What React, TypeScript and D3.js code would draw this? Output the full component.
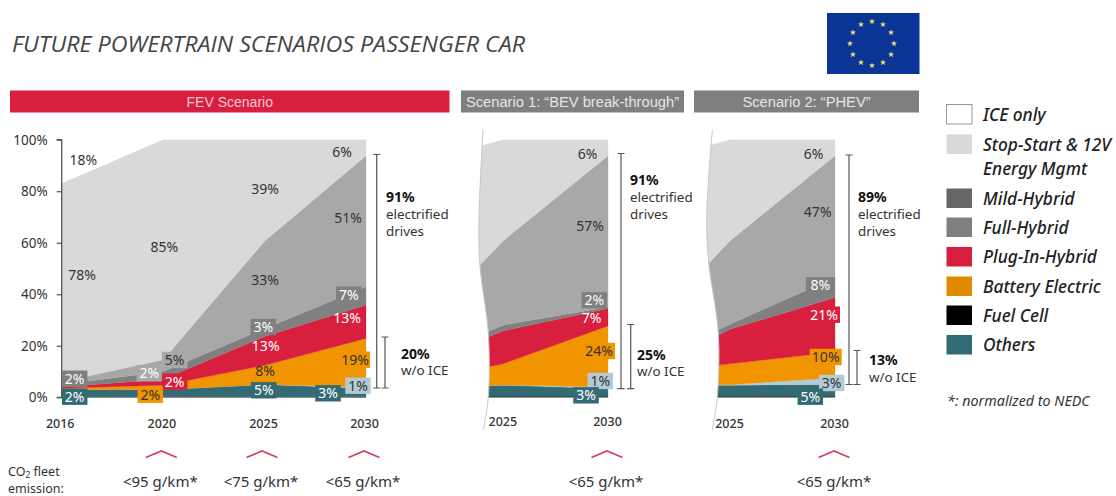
import React, { useEffect, useRef } from "react";
import * as d3 from "d3";

// ---------- data ----------
const fevYears = [2016, 2020, 2025, 2030];
const fevFuelCell = [0.2, 0.2, 0.2, 0.2];
const fevOthers = [2.8, 2.8, 4.8, 3.3];
const fevPale = [0, 0, 0, 0.5];
const fevBattery = [0.5, 1.7, 7.4, 18.8];
const fevPlugIn = [0.5, 2.3, 11.3, 13];
const fevDark = [1, 3, 3, 7.1];
const fevMid = [1, 4.6, 34.1, 50.9];
const fevLight = [77, 85.4, 39.2, 6.2];

// The scenario panels are cut off just before 2025
const s1Years = [2023.8, 2025, 2030];
const s1FuelCell = [0.4, 0.4, 0.4];
const s1Others = [4, 4.3, 3];
const s1Pale = [0.1, 0.1, 0.6];
const s1Battery = [6.5, 8.2, 23.7];
const s1PlugIn = [10.8, 12.8, 6.8];
const s1Dark = [2.2, 2.2, 0.6];
const s1Mid = [26.6, 32.8, 58.7];
const s1Light = [46.7, 39.2, 6.2];

const s2Years = [2023.9, 2025, 2030];
const s2FuelCell = [0.4, 0.4, 0.4];
const s2Others = [4.3, 4.3, 4.6];
const s2Pale = [0.1, 0.2, 2.6];
const s2Battery = [7.2, 8.1, 10];
const s2PlugIn = [9.9, 13.4, 21.1];
const s2Dark = [2.1, 2, 7.8];
const s2Mid = [27.3, 32.4, 47.3];
const s2Light = [46.2, 39.2, 6.2];

const yTicks = [0, 20, 40, 60, 80, 100];
const fevTickYears = [2016, 2020, 2025, 2030];
const scenarioTickYears = [2025, 2030];

const fevLabels = ["18%", "78%", "85%", "39%", "33%", "51%", "6%", "7%", "13%", "13%", "3%", "8%", "5%", "19%", "1%", "3%", "2%", "2%", "2%", "5%", "2%", "2%"];
const s1Labels = ["6%", "57%", "2%", "7%", "24%", "1%", "3%"];
const s2Labels = ["6%", "47%", "8%", "21%", "10%", "3%", "5%"];

const headers = ["FEV Scenario", "Scenario 1: \u201CBEV break-through\u201D", "Scenario 2: \u201CPHEV\u201D"];
const legendNames = ["ICE only", "Stop-Start & 12V", "Mild-Hybrid", "Full-Hybrid", "Plug-In-Hybrid", "Battery Electric", "Fuel Cell", "Others"];
const co2Targets = ["<95 g/km*", "<75 g/km*", "<65 g/km*", "<65 g/km*", "<65 g/km*"];

// ---------- styles and layout ----------
const W = 1116, H = 496;
const Y0 = 397.3, Y100 = 139.7;
const SANS = "'Noto Sans', sans-serif";
const C = {
  fuel: "#111111", others: "#336b75", pale: "#b3cbd6", battery: "#f09400", plug: "#d91f3e",
  dark: "#808080", mid: "#a8a8a8", light: "#d9d9d9", ink: "#333333",
};
const layerKeys = ["fuel", "others", "pale", "battery", "plug", "dark", "mid", "light"];
const layerColors = [C.fuel, C.others, C.pale, C.battery, C.plug, C.dark, C.mid, C.light];

const yScale = d3.scaleLinear().domain([0, 100]).range([Y0, Y100]);

type L = [number, number, number?, string?, string?]; // cx, cy, box width, box fill, text color
const B = 25.5;
const fevLayout: L[] = [
  [83.3, 159.7], [82, 275], [164.3, 247], [265, 188.5], [265, 280], [348, 218], [342, 152],
  [348.8, 294.7, B, C.dark, "#fff"], [347, 318, 0, "", "#fff"], [265.7, 345.7, 0, "", "#fff"],
  [263.3, 327, B, C.dark, "#fff"], [265, 371], [263.8, 390.3, B, C.others, "#fff"],
  [355, 359.7, 30, C.battery], [358, 385.7, B, C.pale], [328, 393.3, B, C.others, "#fff"],
  [74.7, 378.7, B, C.dark, "#fff"], [74.7, 396.7, B, C.others, "#fff"],
  [149.3, 373.3, B, C.mid, "#fff"], [174.7, 360, B, C.mid], [174.7, 381.7, B, C.plug, "#fff"], [150.3, 394.7, B, C.battery],
];
const s1Layout: L[] = [
  [587.7, 154], [590, 226], [594.3, 300.3, B, C.dark, "#fff"], [591.7, 318.3, 0, "", "#fff"],
  [599, 351, 32, C.battery], [600.3, 381, B, C.pale], [586, 395.3, B, C.others, "#fff"],
];
const s2Layout: L[] = [
  [813.7, 154], [817.7, 212.3], [820.3, 285.3, 29, C.dark, "#fff"], [824, 314.7, 32, C.plug, "#fff"],
  [825.7, 357, 32, C.battery], [831.7, 383, B, C.pale], [810.3, 396.7, B, C.others, "#fff"],
];

function stackLayers(years: number[], cols: number[][]) {
  const rows = years.map((year, i) => {
    const r: Record<string, number> = { year };
    layerKeys.forEach((k, j) => (r[k] = cols[j][i]));
    return r;
  });
  return d3.stack<Record<string, number>>().keys(layerKeys)(rows);
}

function Areas({ years, cols, x, clip }: { years: number[]; cols: number[][]; x: d3.ScaleLinear<number, number>; clip?: string }) {
  const area = d3.area<any>()
    .x((d) => x(d.data.year))
    .y0((d) => yScale(Math.min(100, d[0])))
    .y1((d) => yScale(Math.min(100, d[1])));
  return (
    <g clipPath={clip ? `url(#${clip})` : undefined}>
      {stackLayers(years, cols).map((s, i) => (
        <path key={i} d={area(s as any) as string} fill={layerColors[i]} stroke={layerColors[i]} strokeWidth={0.3} />
      ))}
    </g>
  );
}

function YAxis() {
  const ref = useRef<SVGGElement>(null);
  useEffect(() => {
    const g = d3.select(ref.current as SVGGElement);
    g.call(d3.axisLeft(yScale).tickValues(yTicks).tickSize(5).tickPadding(9).tickFormat((d) => `${d}%`) as any);
    g.selectAll("path").attr("stroke", "#555").attr("stroke-width", 1.3).attr("d", `M-5,${Y100}H0V${Y0}H-5`);
    g.selectAll("line").attr("stroke", "#555").attr("stroke-width", 1.2);
    g.selectAll("text").attr("fill", C.ink).style("font", `13.5px ${SANS}`);
  }, []);
  return <g ref={ref} transform="translate(61.7,0)" />;
}

function Labels({ texts, layout }: { texts: string[]; layout: L[] }) {
  return (
    <g>
      {texts.map((t, i) => {
        const [cx, cy, w, fill, color] = layout[i];
        return (
          <g key={i}>
            {w ? <rect x={cx - w / 2} y={cy - 8.2} width={w} height={16.4} fill={fill} /> : null}
            <text x={cx} y={cy} dy="0.36em" textAnchor="middle" fontSize={14} fontFamily={SANS} fill={color || C.ink}>{t}</text>
          </g>
        );
      })}
    </g>
  );
}

function Bracket({ x, y0, y1 }: { x: number; y0: number; y1: number }) {
  return <path d={`M${x - 3.5},${y0}H${x + 3.5}M${x},${y0}V${y1}M${x - 3.5},${y1}H${x + 3.5}`} fill="none" stroke="#555" strokeWidth={1.2} />;
}

function Note({ x, y, strong, lines }: { x: number; y: number; strong: string; lines: string[] }) {
  return (
    <g fontFamily={SANS} fontSize={13.4} fill={C.ink}>
      <text x={x} y={y} dy="0.36em" fontWeight={700} fontSize={14} fill="#111">{strong}</text>
      {lines.map((l, i) => <text key={i} x={x} y={y + 17 * (i + 1)} dy="0.36em">{l}</text>)}
    </g>
  );
}

const cutLine = d3.line<[number, number]>().curve(d3.curveCatmullRom.alpha(0.5));
const s1Cut: [number, number][] = [[483, 130], [479, 220], [480, 267], [488.3, 333], [488.3, 397], [483.3, 430]];
const s2Cut: [number, number][] = [[712.3, 130], [706.7, 220], [709, 265], [718.3, 333], [717.3, 397], [712.3, 430]];

function Flag() {
  const star = d3.symbol().type(d3.symbolStar).size(12)() as string;
  const angles = d3.range(12).map((i) => (i * Math.PI) / 6);
  return (
    <g>
      <rect x={827} y={13} width={92.5} height={61} fill="#0a3597" />
      {angles.map((a, i) => (
        <path key={i} d={star} fill="#f2e26b" transform={`translate(${872 + 22 * Math.sin(a)},${43.5 - 22 * Math.cos(a)})`} />
      ))}
    </g>
  );
}

export default function App() {
  const xF = d3.scaleLinear().domain([2016, 2020, 2025, 2030]).range([61.7, 163.3, 265, 366]);
  const x1 = d3.scaleLinear().domain([2025, 2030]).range([503.3, 608]);
  const x2 = d3.scaleLinear().domain([2025, 2030]).range([730, 835]);

  const swatches = [
    { y: 104.5, fill: "#fff", stroke: "#999" }, { y: 134.5, fill: "#d9d9d9" }, { y: 188.5, fill: "#666" }, { y: 217.5, fill: "#7f7f7f" },
    { y: 247, fill: C.plug }, { y: 276.5, fill: "#e08a00" }, { y: 305.5, fill: "#000" }, { y: 335, fill: C.others },
  ];
  const chevronX = [xF(2020) - 2, xF(2025) - 3, xF(2030) - 2, x1(2030) - 1, x2(2030) - 1];
  const co2X = [xF(2020) - 3, xF(2025) - 4, xF(2030) - 3, x1(2030) - 2, x2(2030) - 1];

  return (
    <svg width={W} height={H} viewBox={`0 0 ${W} ${H}`} style={{ position: "absolute", left: 0, top: 0, background: "#fff" }}>
      <defs>
        <clipPath id="cut1"><path d={`${cutLine(s1Cut)}L640,430L640,130Z`} /></clipPath>
        <clipPath id="cut2"><path d={`${cutLine(s2Cut)}L870,430L870,130Z`} /></clipPath>
      </defs>

      <text x={12} y={51.5} fontFamily="'Open Sans', sans-serif" fontStyle="italic" fontWeight={500} fontSize={21} textLength={513} lengthAdjust="spacingAndGlyphs" fill="#444">FUTURE POWERTRAIN SCENARIOS PASSENGER CAR</text>
      <Flag />

      {[[10, 439.5, C.plug], [461, 223, "#7f7f7f"], [694, 225, "#7f7f7f"]].map(([x, w, f], i) => (
        <g key={i}>
          <rect x={x as number} y={90.5} width={w as number} height={22} fill={f as string} />
          <text x={(x as number) + (w as number) / 2} y={101.5} dy="0.36em" textAnchor="middle" fontFamily="'Liberation Sans', sans-serif" fontSize={i === 0 ? 14 : 14.7} fill={i === 0 ? "#f3c9cf" : "#e6e6e6"}>{headers[i]}</text>
        </g>
      ))}

      <Areas years={fevYears} x={xF} cols={[fevFuelCell, fevOthers, fevPale, fevBattery, fevPlugIn, fevDark, fevMid, fevLight]} />
      <Areas years={s1Years} x={x1} clip="cut1" cols={[s1FuelCell, s1Others, s1Pale, s1Battery, s1PlugIn, s1Dark, s1Mid, s1Light]} />
      <Areas years={s2Years} x={x2} clip="cut2" cols={[s2FuelCell, s2Others, s2Pale, s2Battery, s2PlugIn, s2Dark, s2Mid, s2Light]} />
      <path d={cutLine(s1Cut) as string} fill="none" stroke="#c8c8c8" strokeWidth={1} />
      <path d={cutLine(s2Cut) as string} fill="none" stroke="#c8c8c8" strokeWidth={1} />

      <YAxis />

      <Labels texts={fevLabels} layout={fevLayout} />
      <Labels texts={s1Labels} layout={s1Layout} />
      <Labels texts={s2Labels} layout={s2Layout} />

      <Bracket x={376.7} y0={154.5} y1={388} />
      <Bracket x={385} y0={337} y1={388} />
      <Note x={386} y={197} strong="91%" lines={["electrified", "drives"]} />
      <Note x={401} y={353.5} strong="20%" lines={["w/o ICE"]} />

      <Bracket x={621} y0={153.5} y1={388.7} />
      <Bracket x={630.7} y0={324.5} y1={388.7} />
      <Note x={630} y={180} strong="91%" lines={["electrified", "drives"]} />
      <Note x={637} y={354.5} strong="25%" lines={["w/o ICE"]} />

      <Bracket x={849} y0={155} y1={384.5} />
      <Bracket x={857} y0={350.5} y1={384.5} />
      <Note x={858} y={197} strong="89%" lines={["electrified", "drives"]} />
      <Note x={869} y={360} strong="13%" lines={["w/o ICE"]} />

      <g fontFamily={SANS} fontSize={12.5} fontWeight={500} fill={C.ink} textAnchor="middle">
        {fevTickYears.map((y) => <text key={y} x={xF(y) - 1.5} y={423} dy="0.36em">{y}</text>)}
        {scenarioTickYears.map((y) => <text key={y} x={x1(y) - 0.5} y={421} dy="0.36em">{y}</text>)}
        {scenarioTickYears.map((y) => <text key={y} x={x2(y) - 0.5} y={423} dy="0.36em">{y}</text>)}
      </g>

      {co2X.map((x, i) => (
        <g key={i}>
          <path d={`M${chevronX[i] - 15.5},457.5L${chevronX[i]},451L${chevronX[i] + 15.5},457.5`} fill="none" stroke="#d0445f" strokeWidth={1.8} />
          <text x={x} y={482} textAnchor="middle" dy="0.36em" fontFamily={SANS} fontSize={15} fill={C.ink}>{co2Targets[i]}</text>
        </g>
      ))}

      <g fontFamily={SANS} fontSize={12.5} fill={C.ink}>
        <text x={8} y={471} dy="0.36em">CO<tspan fontSize={8.5} dy="2">2</tspan><tspan dy="-2"> fleet</tspan></text>
        <text x={8} y={488.5} dy="0.36em">emission:</text>
      </g>

      {swatches.map((s, i) => (
        <g key={i}>
          <rect x={946.5} y={s.y} width={25.5} height={19.5} fill={s.fill} stroke={s.stroke || "none"} strokeWidth={1} />
          <text x={983} y={s.y + 10} dy="0.36em" fontFamily={SANS} fontStyle="italic" fontWeight={500} fontSize={17.3} fill="#1e1e1e">{legendNames[i]}</text>
        </g>
      ))}
      <text x={983} y={168.5} dy="0.36em" fontFamily={SANS} fontStyle="italic" fontWeight={500} fontSize={17.3} fill="#1e1e1e">Energy Mgmt</text>
      <text x={947} y={401} dy="0.36em" fontFamily={SANS} fontStyle="italic" fontSize={14.3} fill="#333">*: normalized to NEDC</text>
    </svg>
  );
}
